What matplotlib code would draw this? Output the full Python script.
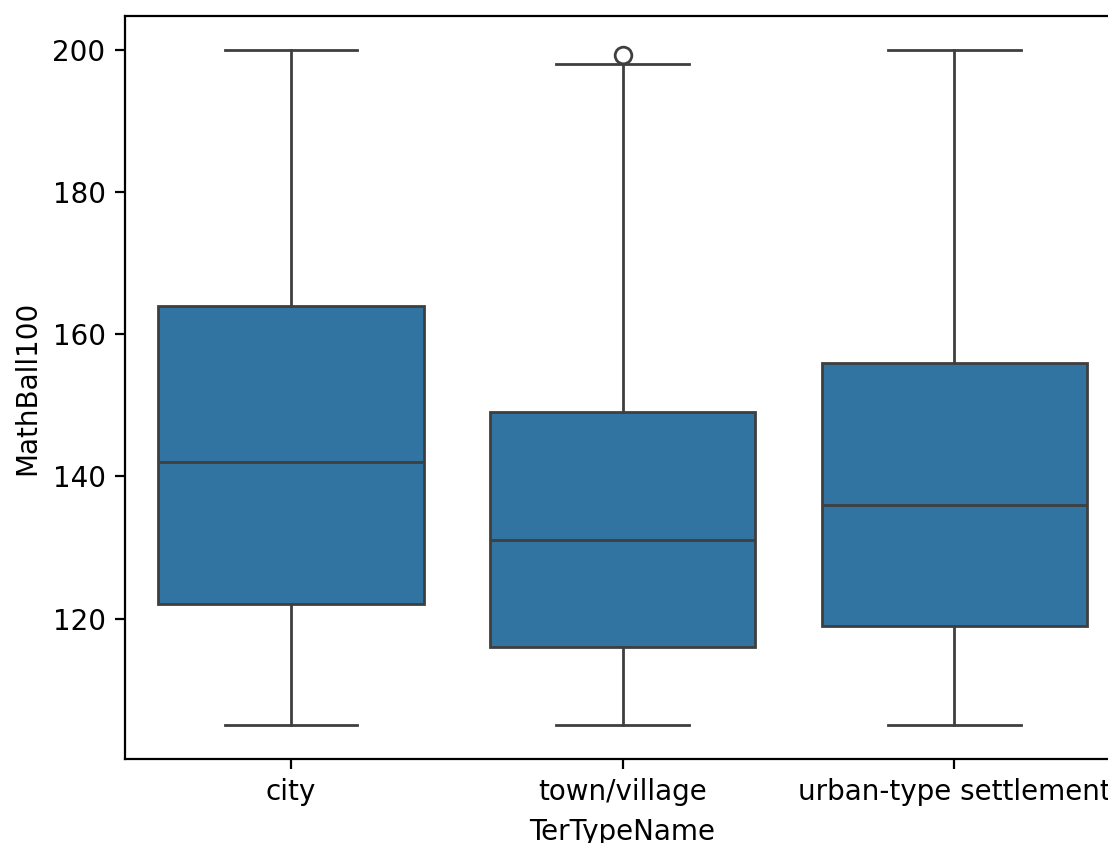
import matplotlib

matplotlib.use('agg')

from matplotlib import pyplot as plt

# five-number summaries
categories = ["city", "town/village", "urban-type settlement"]
whislo = [105, 105, 105]
q1 = [122, 116, 119]
med = [142, 131, 136]
q3 = [164, 149, 156]
whishi = [200, 198, 200]
fliers = [[], [199.2], []]

box_color = "#3274a1"
line_color = "#3f3f3f"

stats = []
for i in range(len(categories)):
    stats.append({
        "label": categories[i],
        "whislo": whislo[i],
        "q1": q1[i],
        "med": med[i],
        "q3": q3[i],
        "whishi": whishi[i],
        "fliers": fliers[i],
    })

fig = plt.figure(figsize=(1108 / 200, 843 / 200), dpi=200)
ax = fig.add_axes([125 / 1108, 84 / 843, 995 / 1108, 743 / 843])

line_props = dict(color=line_color, linewidth=1.0)
ax.bxp(
    stats,
    positions=range(len(categories)),
    widths=0.8,
    capwidths=0.4,
    patch_artist=True,
    boxprops=dict(facecolor=box_color, edgecolor=line_color, linewidth=1.0),
    medianprops=line_props,
    whiskerprops=line_props,
    capprops=line_props,
    flierprops=dict(marker="o", markersize=6, markerfacecolor="none",
                    markeredgecolor=line_color, markeredgewidth=1.0),
)

ax.set_xlim(-0.5, len(categories) - 0.5)
ax.set_ylim(100.25, 204.75)
ax.set_yticks([120, 140, 160, 180, 200])
ax.set_xticks(range(len(categories)))
ax.set_xticklabels(categories)
ax.set_xlabel("TerTypeName")
ax.set_ylabel("MathBall100")

fig.savefig("out.png", dpi=200)
